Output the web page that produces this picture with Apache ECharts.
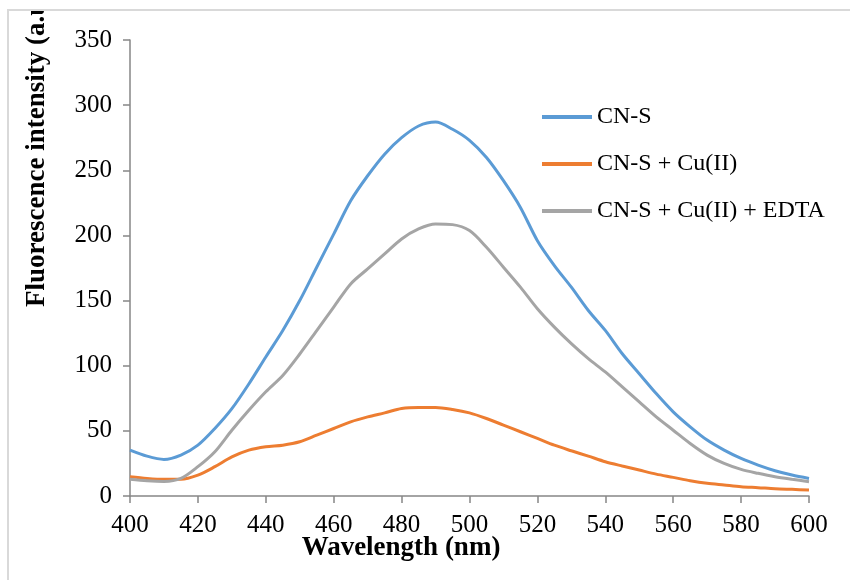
<!DOCTYPE html>
<html>
<head>
<meta charset="utf-8">
<script src="https://cdn.jsdelivr.net/npm/echarts@6/dist/echarts.min.js"></script>
<style>
  html, body { margin: 0; padding: 0; background: #fff; }
  #main { width: 850px; height: 580px; }
</style>
</head>
<body>
<div id="main"></div>
<script>
// wavelength (nm), every 5 nm
var wavelengths = [];
for (var w = 400; w <= 600; w += 5) wavelengths.push(w);

var seriesNames = ['CN-S', 'CN-S + Cu(II)', 'CN-S + Cu(II) + EDTA'];

var cnS = [35.2, 30.6, 28.1, 31.4, 39, 51.8, 67, 86, 106.7, 127,
    150, 175.6, 201, 226.6, 245.8, 262.4, 275, 284, 287, 281.5,
    273, 259.8, 242, 221.5, 196, 176.9, 160.3, 142.4, 127.1, 109.2,
    93.9, 78.6, 64.6, 53.1, 42.9, 35.2, 28.8, 23.7, 19.4, 16.1,
    13.5];
var cnSCu = [14.8, 13.5, 12.8, 12.8, 16, 22.5, 30, 35.2, 37.8, 39,
    41.6, 46.7, 51.8, 56.9, 60.7, 63.8, 67.1, 67.9, 67.9, 66.4,
    63.8, 59.5, 54.4, 49.3, 44.2, 39, 34.7, 30.6, 26.3, 23,
    19.9, 16.8, 14.3, 11.7, 9.7, 8.4, 7.1, 6.4, 5.6, 5.1,
    4.6];
var cnSCuEdta = [12.8, 11.7, 11.2, 13.5, 22.5, 34, 50.5, 65.8, 80, 92.5,
    109, 127, 145, 162.8, 174.3, 185.8, 197.3, 205, 208.8, 208.3,
    203.7, 190.9, 175.6, 160.3, 143.7, 129.6, 116.9, 105.4, 95.2, 83.7,
    72.2, 60.7, 50.5, 40.3, 31.4, 25, 20.4, 17.4, 14.8, 12.8,
    11];

var colors = ['#5B9BD5', '#ED7D31', '#A5A5A5'];
var serif = "'Liberation Serif', 'Times New Roman', serif";

function pairs(vals) {
    return wavelengths.map(function (x, i) { return [x, vals[i]]; });
}

var myChart = echarts.init(document.getElementById('main'));

var option = {
    color: colors,
    animation: false,
    backgroundColor: '#fff',
    grid: {
        left: 130,
        right: 41,
        top: 40,
        bottom: 84
    },
    legend: {
        orient: 'vertical',
        left: 537,
        top: 100,
        itemWidth: 50,
        itemHeight: 4,
        itemGap: 23,
        icon: 'rect',
        textStyle: { fontFamily: serif, fontSize: 24, color: '#000' },
        data: seriesNames
    },
    xAxis: {
        type: 'value',
        min: 400,
        max: 600,
        interval: 20,
        axisLine: { lineStyle: { color: '#868686', width: 1.5 } },
        axisTick: { show: true, length: 7, lineStyle: { color: '#868686', width: 1.5 } },
        axisLabel: { fontFamily: serif, fontSize: 25, color: '#000', margin: 17 },
        splitLine: { show: false }
    },
    yAxis: {
        type: 'value',
        min: 0,
        max: 350,
        interval: 50,
        axisLine: { show: true, lineStyle: { color: '#868686', width: 1.5 } },
        axisTick: { show: true, length: 7, lineStyle: { color: '#868686', width: 1.5 } },
        axisLabel: { fontFamily: serif, fontSize: 25, color: '#000', margin: 18 },
        splitLine: { show: false }
    },
    graphic: [
        {
            type: 'text',
            x: 37, y: 146,
            rotation: Math.PI / 2,
            z: 1,
            style: {
                text: 'Fluorescence intensity (a.u.)',
                font: 'bold 27px ' + serif,
                fill: '#000',
                align: 'center',
                verticalAlign: 'middle'
            }
        },
        {
            type: 'text',
            x: 401, y: 548,
            z: 1,
            style: {
                text: 'Wavelength (nm)',
                font: 'bold 27px ' + serif,
                fill: '#000',
                align: 'center',
                verticalAlign: 'middle'
            }
        },
        // white band + frame lines (image is cropped at the top)
        { type: 'rect', z: 10, shape: { x: 0, y: 0, width: 850, height: 10 }, style: { fill: '#fff' } },
        { type: 'line', z: 11, shape: { x1: 7, y1: 10, x2: 850, y2: 10 }, style: { stroke: '#d9d9d9', lineWidth: 2 } },
        { type: 'line', z: 11, shape: { x1: 8, y1: 10, x2: 8, y2: 580 }, style: { stroke: '#d9d9d9', lineWidth: 2 } }
    ],
    series: [
        { name: seriesNames[0], type: 'line', data: pairs(cnS), showSymbol: false, smooth: 0.3, lineStyle: { width: 3 } },
        { name: seriesNames[1], type: 'line', data: pairs(cnSCu), showSymbol: false, smooth: 0.3, lineStyle: { width: 3 } },
        { name: seriesNames[2], type: 'line', data: pairs(cnSCuEdta), showSymbol: false, smooth: 0.3, lineStyle: { width: 3 } }
    ]
};

myChart.setOption(option);
</script>
</body>
</html>
